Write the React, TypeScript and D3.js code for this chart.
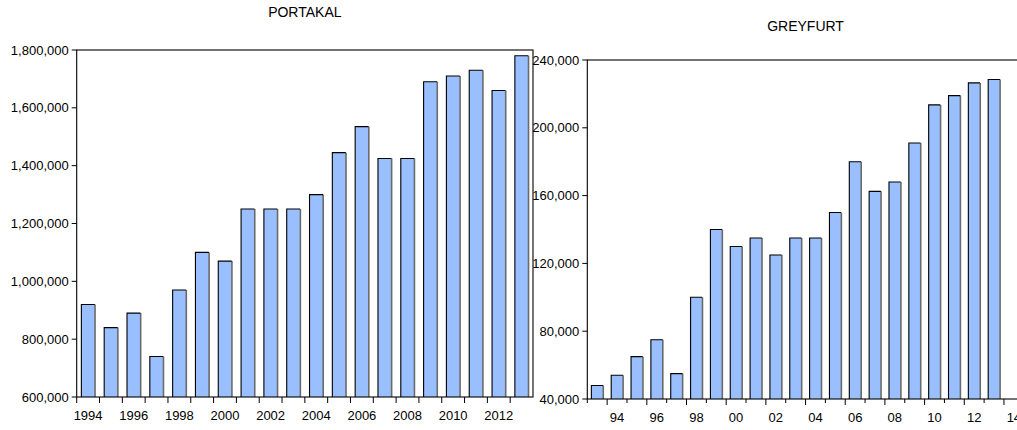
import React from "react";
import * as d3 from "d3";

const portakalYears = [1994, 1995, 1996, 1997, 1998, 1999, 2000, 2001, 2002, 2003, 2004, 2005, 2006, 2007, 2008, 2009, 2010, 2011, 2012, 2013];
const portakalValues = [920000, 840000, 890000, 740000, 970000, 1100000, 1070000, 1250000, 1250000, 1250000, 1300000, 1445000, 1535000, 1425000, 1425000, 1690000, 1710000, 1730000, 1660000, 1780000];
const portakalYTicks = [600000, 800000, 1000000, 1200000, 1400000, 1600000, 1800000];
const portakalXLabels = ["1994", "1996", "1998", "2000", "2002", "2004", "2006", "2008", "2010", "2012"];

const greyfurtAxisYears = [1993, 1994, 1995, 1996, 1997, 1998, 1999, 2000, 2001, 2002, 2003, 2004, 2005, 2006, 2007, 2008, 2009, 2010, 2011, 2012, 2013, 2014];
const greyfurtYears = [1993, 1994, 1995, 1996, 1997, 1998, 1999, 2000, 2001, 2002, 2003, 2004, 2005, 2006, 2007, 2008, 2009, 2010, 2011, 2012, 2013];
const greyfurtValues = [48000, 54000, 65000, 75000, 55000, 100000, 140000, 130000, 135000, 125000, 135000, 135000, 150000, 180000, 162500, 168000, 191000, 213500, 219000, 226500, 228500];
const greyfurtYTicks = [40000, 80000, 120000, 160000, 200000, 240000];
const greyfurtXLabels = ["94", "96", "98", "00", "02", "04", "06", "08", "10", "12", "14"];

const FONT = "'Liberation Sans', Arial, sans-serif";
const FILL = "#99bfff";

type PanelProps = {
  title: string;
  titleY: number;
  left: number;
  right: number;
  top: number;
  bottom: number;
  axisYears: number[];
  years: number[];
  values: number[];
  yTicks: number[];
  xLabels: string[];
  labelYears: number[];
  yDomain: [number, number];
  altTicks: boolean;
};

function Panel(p: PanelProps) {
  const x = d3.scaleBand<number>().domain(p.axisYears).range([p.left, p.right]).padding(0);
  const y = d3.scaleLinear().domain(p.yDomain).range([p.bottom, p.top]);
  const fmt = d3.format(",");
  const bw = x.bandwidth();
  const barW = bw * 0.59;
  const bars = p.years.map((yr, i) => {
    const cx = (x(yr) as number) + bw / 2;
    const x0 = cx - barW / 2;
    const yt = y(p.values[i]);
    return (
      <g key={yr}>
        <rect x={x0} y={yt} width={barW} height={p.bottom - yt} fill={FILL} />
        <line x1={x0 + barW + 0.2} x2={x0 + barW + 0.2} y1={yt} y2={p.bottom} stroke="#6a6a6a" strokeWidth={1.6} />
        <path d={`M${x0},${p.bottom}V${yt}H${x0 + barW}`} fill="none" stroke="#000" strokeWidth={1.1} />
      </g>
    );
  });
  const tickXs = p.axisYears.map((yr) => x(yr) as number);
  return (
    <g>
      <text x={(p.left + p.right) / 2} y={p.titleY} textAnchor="middle" fontFamily={FONT} fontSize={14} fill="#000">
        {p.title}
      </text>
      {bars}
      <rect x={p.left} y={p.top} width={p.right - p.left} height={p.bottom - p.top} fill="none" stroke="#000" strokeWidth={1.1} />
      {p.yTicks.map((t) => (
        <g key={t}>
          <line x1={p.left - 5} x2={p.left} y1={y(t)} y2={y(t)} stroke="#000" strokeWidth={1} />
          <text x={p.left - 8} y={y(t)} dy="0.35em" textAnchor="end" fontFamily={FONT} fontSize={13} fill="#000">
            {fmt(t)}
          </text>
        </g>
      ))}
      {tickXs.map((tx, i) => {
        const long = !p.altTicks || p.axisYears[i] % 2 === 0;
        return <line key={i} x1={tx} x2={tx} y1={p.bottom} y2={p.bottom + (long ? 6 : 4)} stroke="#000" strokeWidth={1} />;
      })}
      {p.xLabels.map((lab, i) => (
        <text key={lab} x={(x(p.labelYears[i]) as number) + bw / 2} y={p.bottom + 23} textAnchor="middle" fontFamily={FONT} fontSize={13} fill="#000">
          {lab}
        </text>
      ))}
    </g>
  );
}

export default function App() {
  return (
    <svg width={1017} height={430} style={{ position: "absolute", left: 0, top: 0, background: "#fff" }}>
      <rect x={0} y={0} width={1017} height={430} fill="#fff" />
      <Panel
        title="PORTAKAL"
        titleY={17}
        left={76.7}
        right={533}
        top={50}
        bottom={397}
        axisYears={portakalYears}
        years={portakalYears}
        values={portakalValues}
        yTicks={portakalYTicks}
        xLabels={portakalXLabels}
        labelYears={portakalXLabels.map((s) => +s)}
        yDomain={[600000, 1800000]}
        altTicks={false}
      />
      <Panel
        title="GREYFURT"
        titleY={31}
        left={587.3}
        right={1023.8}
        top={60}
        bottom={399}
        axisYears={greyfurtAxisYears}
        years={greyfurtYears}
        values={greyfurtValues}
        yTicks={greyfurtYTicks}
        xLabels={greyfurtXLabels}
        labelYears={greyfurtXLabels.map((s) => 2000 + +s - (+s > 50 ? 100 : 0))}
        yDomain={[40000, 240000]}
        altTicks={true}
      />
    </svg>
  );
}
